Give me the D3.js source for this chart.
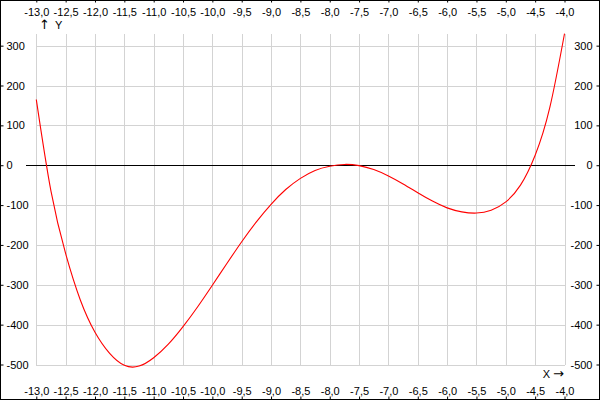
<!DOCTYPE html>
<html><head><meta charset="utf-8">
<script src="https://cdn.jsdelivr.net/npm/d3@7"></script>
<style>
html,body{margin:0;padding:0;background:#fff;}
svg{display:block;}
text{font-family:"Liberation Sans",Arial,sans-serif;font-size:11px;fill:#000;}
</style></head>
<body>
<svg id="chart" width="600" height="400"></svg>
<script>
// Data
const xValues = [-13.0,-12.75,-12.5,-12.25,-12.0,-11.75,-11.5,-11.25,-11.0,-10.75,-10.5,-10.25,-10.0,-9.75,-9.5,-9.25,-9.0,-8.75,-8.5,-8.25,-8.0,-7.75,-7.5,-7.25,-7.0,-6.75,-6.5,-6.25,-6.0,-5.75,-5.5,-5.25,-5.0,-4.75,-4.5,-4.25,-4.0];
const yValues = [165,-65,-222,-338,-419,-472,-502,-504,-483,-449,-405,-355,-301,-246,-192,-142,-98,-61,-33,-13,-2.5,2,-1,-11,-27,-47,-69,-90,-107,-117,-120,-113,-92,-50,25,145,330];
const xTicks = [-13,-12.5,-12,-11.5,-11,-10.5,-10,-9.5,-9,-8.5,-8,-7.5,-7,-6.5,-6,-5.5,-5,-4.5,-4];
const yTicks = [-500,-400,-300,-200,-100,0,100,200,300];
const xDomain = [-13,-4];
const yDomain = [-500,330];

const W = 600, H = 400;
const svg = d3.select("#chart");
const x = d3.scaleLinear().domain(xDomain).range([36.3, 564.5]);
const y = d3.scaleLinear().domain(yDomain).range([364.5, 33.7]);

const loc = d3.formatLocale({decimal:",", thousands:".", grouping:[3], currency:["",""], minus:"-"});
const fx = loc.format(".1f"), fy = loc.format("d");

// grid
const g = svg.append("g").attr("stroke","#d3d3d3").attr("stroke-width",1).attr("shape-rendering","crispEdges");
g.selectAll(".vx").data(xTicks).join("line")
  .attr("x1",d=>Math.round(x(d))+0.5).attr("x2",d=>Math.round(x(d))+0.5)
  .attr("y1",y(yDomain[1])).attr("y2",y(yDomain[0]));
g.selectAll(".hy").data(yTicks).join("line")
  .attr("y1",d=>Math.round(y(d))+0.5).attr("y2",d=>Math.round(y(d))+0.5)
  .attr("x1",x(xDomain[0])).attr("x2",x(xDomain[1]));

// zero line
svg.append("line").attr("x1",x(xDomain[0])-10).attr("x2",x(xDomain[1])+10)
  .attr("y1",Math.round(y(0))+0.5).attr("y2",Math.round(y(0))+0.5)
  .attr("stroke","#000").attr("shape-rendering","crispEdges");

// curve
const pts = xValues.map((v,i)=>[v,yValues[i]]);
svg.append("path").datum(pts)
  .attr("fill","none").attr("stroke","#ff0000").attr("stroke-width",1.1)
  .attr("d", d3.line().x(d=>x(d[0])).y(d=>y(d[1])).curve(d3.curveNatural));

// axes
function styleAxis(sel){
  sel.select(".domain").remove();
  sel.selectAll(".tick line").attr("stroke","#000");
  sel.selectAll("text").attr("fill","#000").style("font-family",'"Liberation Sans",Arial,sans-serif').style("font-size","11px");
}
svg.append("g").attr("transform","translate(0,0.5)")
  .call(d3.axisBottom(x).tickValues(xTicks).tickFormat(fx).tickSize(2).tickPadding(6)).call(styleAxis);
svg.append("g").attr("transform",`translate(0,${H-0.5})`)
  .call(d3.axisTop(x).tickValues(xTicks).tickFormat(fx).tickSize(3).tickPadding(2)).call(styleAxis);
svg.append("g").attr("transform","translate(0.5,0)")
  .call(d3.axisRight(y).tickValues(yTicks).tickFormat(fy).tickSize(3).tickPadding(3)).call(styleAxis);
svg.append("g").attr("transform",`translate(${W-0.5},0)`)
  .call(d3.axisLeft(y).tickValues(yTicks).tickFormat(fy).tickSize(3).tickPadding(4)).call(styleAxis);

// axis titles
const ty = svg.append("text").attr("x",39).attr("y",29);
ty.append("tspan").style("font-family","DejaVu Sans").style("font-size","13px").text("↑");
ty.append("tspan").attr("dx",5).text("Y");
const tx = svg.append("text").attr("x",564).attr("y",378).attr("text-anchor","end");
tx.append("tspan").text("X");
tx.append("tspan").attr("dx",3).style("font-family","DejaVu Sans").style("font-size","13px").text("→");

// border
svg.append("rect").attr("x",0.5).attr("y",0.5).attr("width",W-1).attr("height",H-1)
  .attr("fill","none").attr("stroke","#000");
</script>
</body></html>
